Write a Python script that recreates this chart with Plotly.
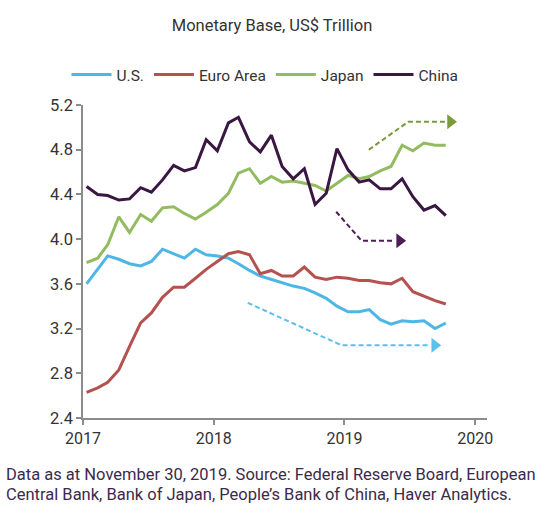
import pandas as pd
import plotly.graph_objects as go

# ---- data (monthly, Jan 2017 - Oct 2019), US$ trillion ----
start_month = "2017-01-01"
n_months = 34
us = [3.60, 3.73, 3.85, 3.82, 3.78, 3.76, 3.80, 3.91, 3.87, 3.83, 3.91, 3.86,
      3.85, 3.83, 3.78, 3.72, 3.67, 3.64, 3.61, 3.58, 3.56, 3.52, 3.47, 3.40,
      3.35, 3.35, 3.37, 3.28, 3.24, 3.27, 3.26, 3.27, 3.20, 3.25]
euro = [2.63, 2.67, 2.72, 2.83, 3.04, 3.25, 3.34, 3.48, 3.57, 3.57, 3.65, 3.73,
        3.80, 3.87, 3.89, 3.86, 3.69, 3.72, 3.67, 3.67, 3.75, 3.66, 3.64, 3.66,
        3.65, 3.63, 3.63, 3.61, 3.60, 3.65, 3.53, 3.49, 3.45, 3.42]
japan = [3.79, 3.83, 3.95, 4.20, 4.06, 4.22, 4.16, 4.28, 4.29, 4.23, 4.18, 4.24,
         4.31, 4.41, 4.59, 4.63, 4.50, 4.56, 4.51, 4.52, 4.50, 4.48, 4.43, 4.50,
         4.57, 4.54, 4.56, 4.61, 4.65, 4.84, 4.79, 4.86, 4.84, 4.84]
china = [4.47, 4.40, 4.39, 4.35, 4.36, 4.46, 4.42, 4.53, 4.66, 4.61, 4.64, 4.89,
         4.79, 5.04, 5.09, 4.87, 4.78, 4.93, 4.65, 4.54, 4.63, 4.31, 4.41, 4.81,
         4.62, 4.51, 4.53, 4.45, 4.45, 4.54, 4.38, 4.26, 4.30, 4.21]

series_names = ["U.S.", "Euro Area", "Japan", "China"]
series_values = [us, euro, japan, china]
series_colors = ["#4db6e4", "#b5514f", "#93bc60", "#3a1742"]

y_ticks = [2.4, 2.8, 3.2, 3.6, 4.0, 4.4, 4.8, 5.2]
x_tick_labels = ["2017", "2018", "2019", "2020"]

# trend arrows (annotation paths): dashed path then arrowhead
arrow_paths = {
    "japan": (["2019-03-10", "2019-06-28", "2019-10-18"], [4.80, 5.05, 5.05], "2019-10-24", "#7a9a3c"),
    "china": (["2018-12-09", "2019-02-18", "2019-05-22"], [4.245, 3.985, 3.985], "2019-06-04", "#4b1f55"),
    "us": (["2018-04-06", "2018-12-24", "2019-08-27"], [3.43, 3.05, 3.05], "2019-09-10", "#5bc0ea"),
}

dates = pd.date_range(start_month, periods=n_months, freq="MS") + pd.Timedelta(days=10)

FONT = "Roboto"
TXT = "#333333"

fig = go.Figure()
for name, vals, col in zip(series_names, series_values, series_colors):
    fig.add_trace(go.Scatter(x=dates, y=vals, name=name, mode="lines",
                             line=dict(color=col, width=3)))

for key, (xs, ys, tip_x, col) in arrow_paths.items():
    fig.add_trace(go.Scatter(x=xs, y=ys, mode="lines", showlegend=False, hoverinfo="skip",
                             line=dict(color=col, width=2, dash="5px,3px")))
    fig.add_trace(go.Scatter(x=[tip_x], y=[ys[-1]], mode="markers", showlegend=False,
                             hoverinfo="skip",
                             marker=dict(symbol="triangle-right", size=13, color=col,
                                         line=dict(width=0))))

fig.update_layout(
    width=544, height=512,
    margin=dict(l=83, r=57, t=105, b=94),
    paper_bgcolor="white", plot_bgcolor="white",
    font=dict(family=FONT, size=14, color=TXT),
    title=dict(text="Monetary Base, US$ Trillion", x=(272 - 83) / 404, xanchor="center",
               xref="paper", y=1 - 25 / 512, yref="container", yanchor="middle",
               font=dict(family=FONT, size=16.5, color=TXT)),
    legend=dict(orientation="h", x=(265 - 83) / 404, xanchor="center", y=1.096, yanchor="middle",
                font=dict(family=FONT, size=15.5, color=TXT),
                itemwidth=40, bgcolor="rgba(0,0,0,0)"),
    showlegend=True,
)

fig.update_xaxes(
    range=["2017-01-01", "2020-02-03"],
    tickmode="array",
    tickvals=[f"{y}-01-01" for y in x_tick_labels],
    ticktext=x_tick_labels,
    showgrid=False, zeroline=False,
    showline=True, linecolor="#8c8c8c", linewidth=1.5,
    ticks="outside", ticklen=5, tickcolor="#8c8c8c", tickwidth=1.5,
    tickfont=dict(family=FONT, size=16, color=TXT),
)
fig.update_yaxes(
    range=[2.4, 5.2],
    tickmode="array", tickvals=y_ticks, ticktext=[f"{v:.1f}" for v in y_ticks],
    showgrid=False, zeroline=False,
    showline=True, linecolor="#8c8c8c", linewidth=1.5,
    ticks="outside", ticklen=5, tickcolor="#8c8c8c", tickwidth=1.5,
    tickfont=dict(family=FONT, size=16.5, color=TXT),
)

foot_color = "#3c2a4c"
foot_lines = ["Data as at November 30, 2019. Source: Federal Reserve Board, European",
              "Central Bank, Bank of Japan, People\u2019s Bank of China, Haver Analytics."]
for i, line in enumerate(foot_lines):
    fig.add_annotation(text=line, xref="paper", yref="paper",
                       x=(4 - 83) / 404, y=(418 - (474 + 20 * i)) / 313,
                       xanchor="left", yanchor="middle", showarrow=False,
                       font=dict(family=FONT, size=16.5, color=foot_color))

fig.write_html("out.html")
